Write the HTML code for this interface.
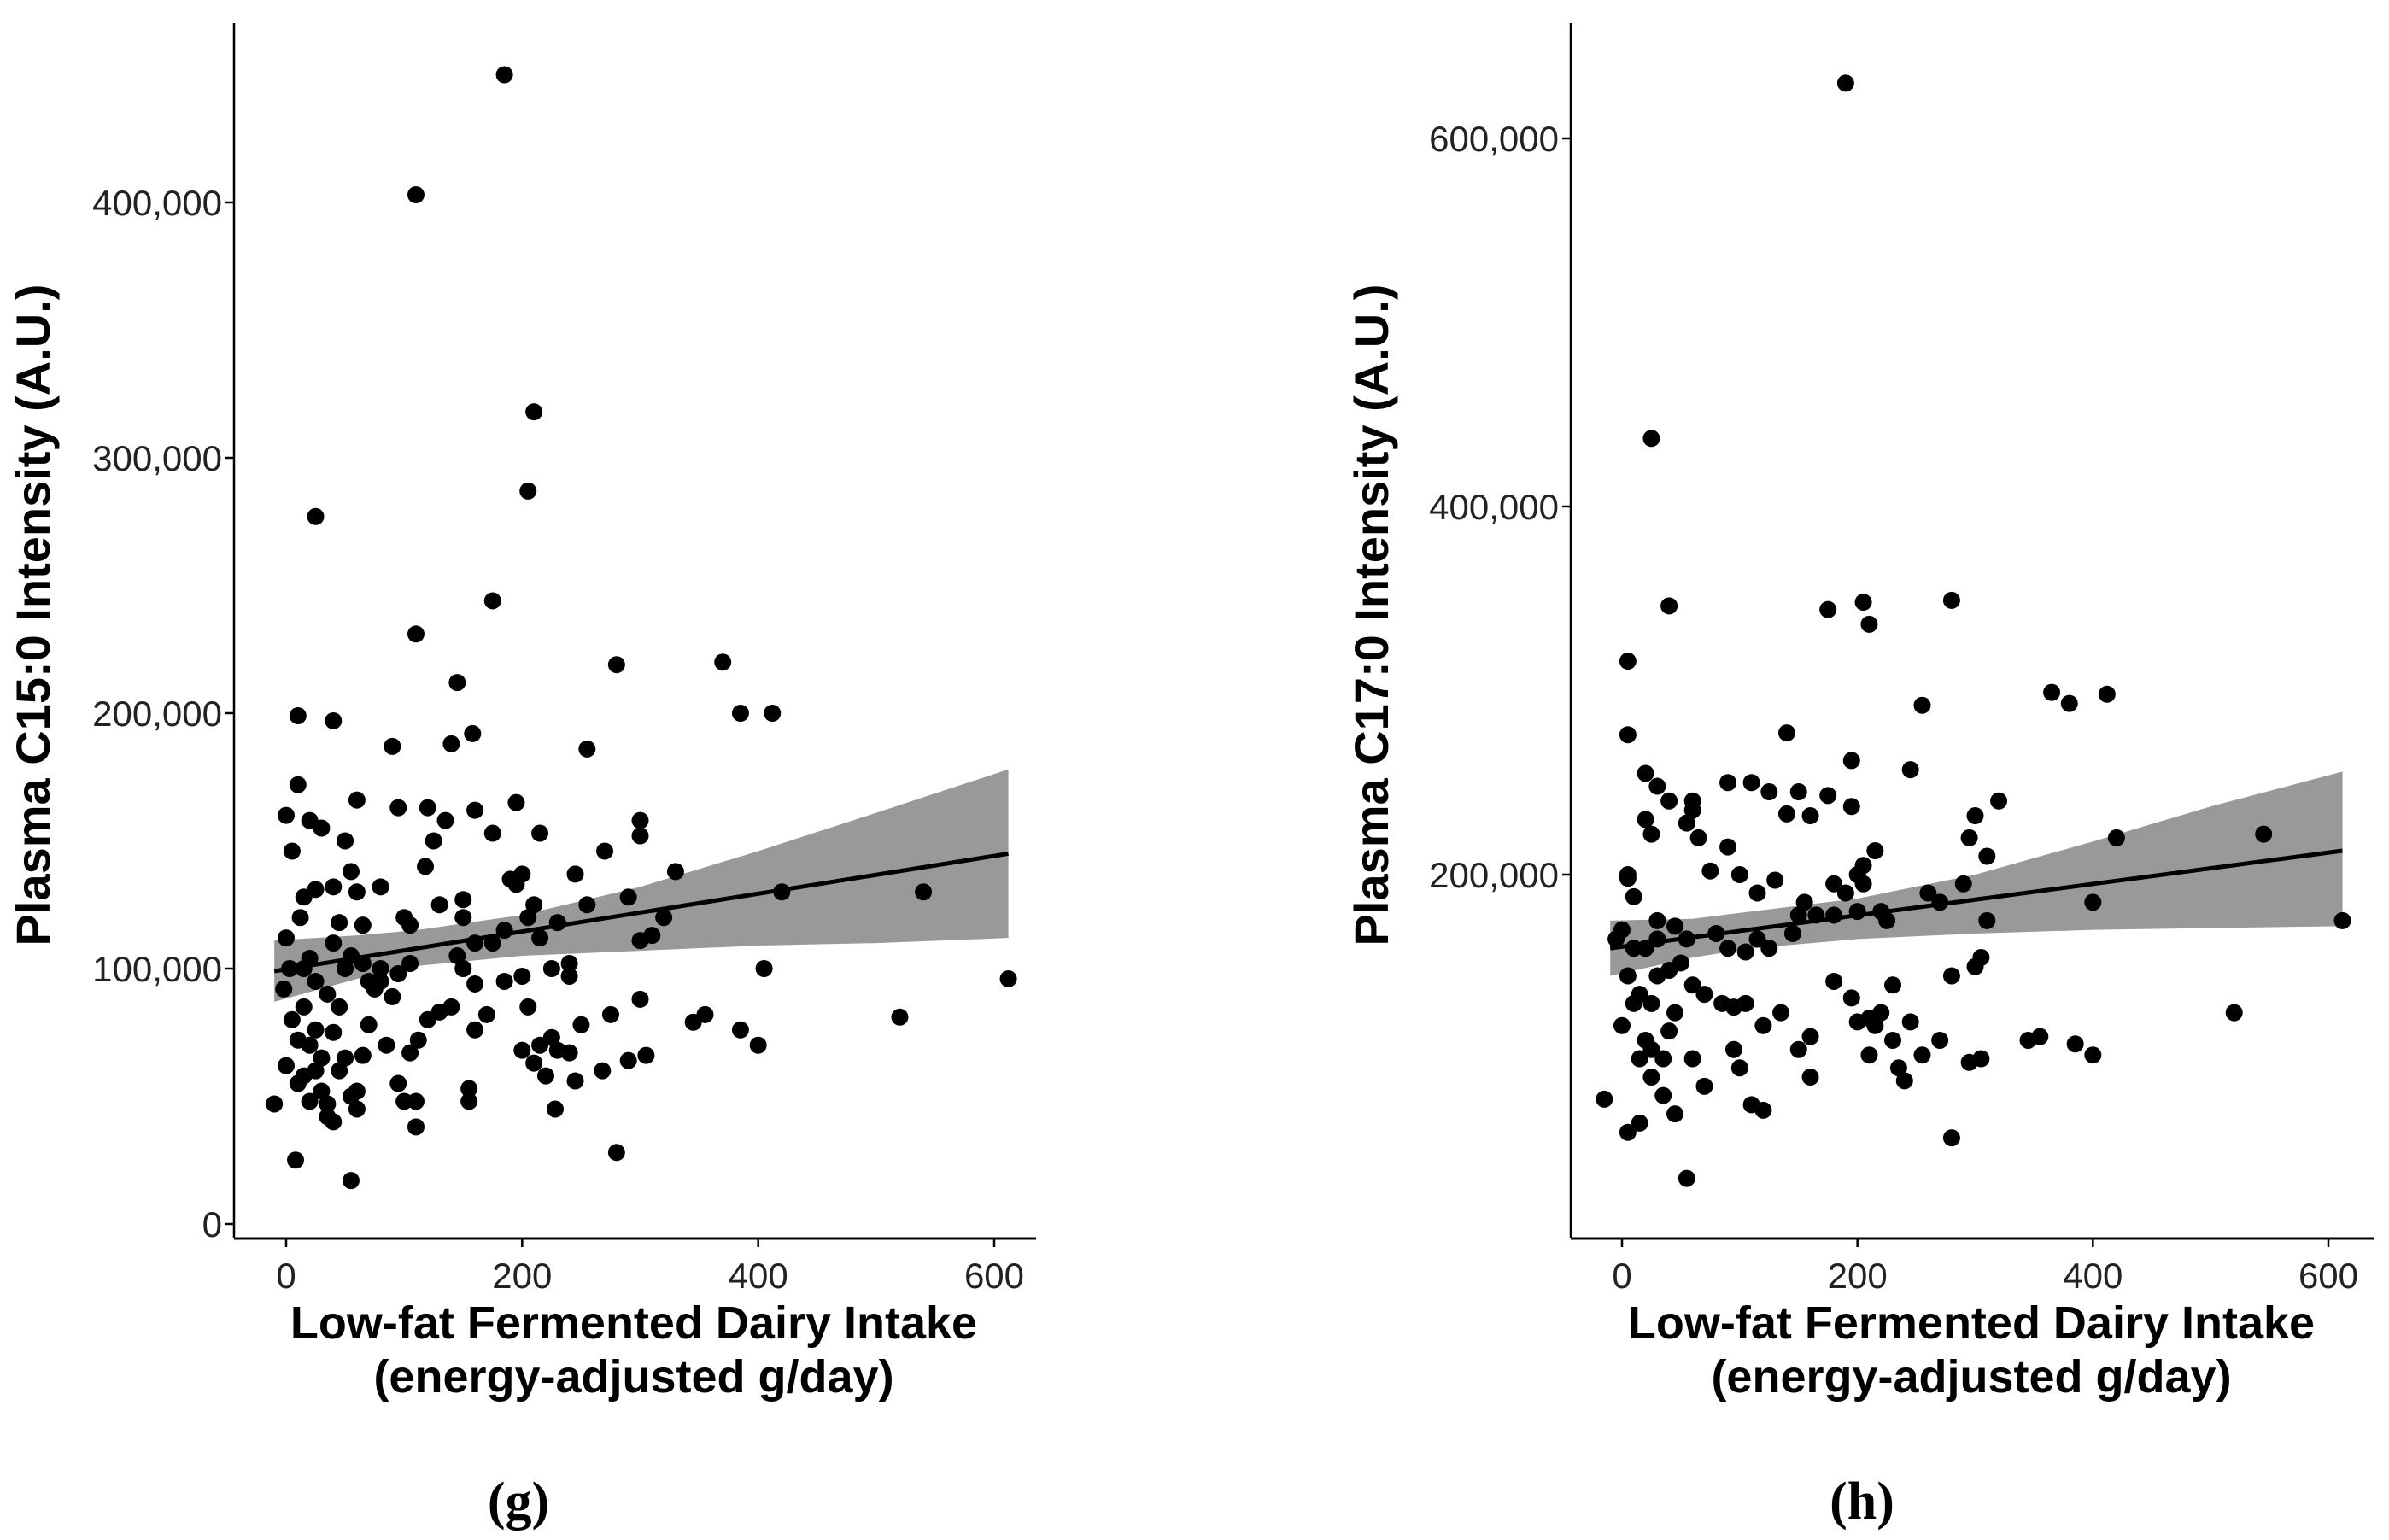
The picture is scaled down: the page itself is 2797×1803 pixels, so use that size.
<!DOCTYPE html>
<html><head><meta charset="utf-8"><style>
html,body{margin:0;padding:0;background:#fff}
svg{display:block}
text{font-family:"Liberation Sans",sans-serif}
text.serif{font-family:"Liberation Serif",serif}
</style></head><body>
<svg id="chart" width="2797" height="1803" viewBox="0 0 2797 1803" xmlns="http://www.w3.org/2000/svg"></svg>
<script>
const xTicks=[0,200,400,600];
const yTicksG=[0,100000,200000,300000,400000];
const yTicksH=[200000,400000,600000];
const gX=[185,110,210,205,25,175,110,370,280,385,412,10,40,90,255,145,140,158,10,60,0,20,30,5,25,50,55,95,120,135,160,175,195,215,200,195,230,205,210,245,270,290,300,300,320,330,420,540,300,310,45,65,80,100,130,150,160,185,215,150,118,125,60,40,15,12,40,70,80,95,105,90,55,20,0,-2,5,10,15,25,30,35,40,20,30,15,25,45,40,45,50,55,60,65,70,80,95,100,105,110,112,120,130,140,155,155,160,170,200,205,210,215,220,225,228,230,240,245,250,268,275,280,290,300,305,225,240,150,160,345,355,385,400,405,520,612,-10,8,55,0,10,20,35,3,15,25,35,50,65,75,85,60,110,145,175,185,190,200,240,255,105];
const gY=[450,403,318,287,277,244,231,220,219,200,200,199,197,187,186,212,188,192,172,166,160,158,155,146,131,150,138,163,163,158,162,153,165,153,137,133,118,120,125,137,146,128,152,158,120,138,130,130,111,113,118,117,132,120,125,127,110,115,112,120,140,150,130,132,128,120,110,95,100,98,102,89,105,104,112,92,80,72,85,60,52,42,40,70,65,58,76,60,75,85,65,50,52,66,78,95,55,48,67,38,72,80,83,85,53,48,76,82,68,85,63,70,58,73,45,68,67,56,78,60,82,28,64,88,66,100,97,100,94,79,82,76,70,100,81,96,47,25,17,62,55,48,47,100,100,95,90,100,102,92,70,45,48,105,110,95,135,97,102,125,117];
const hX=[190,25,40,175,205,280,210,5,365,380,412,255,5,140,195,245,20,30,40,60,90,110,125,140,150,160,175,195,215,205,300,320,295,310,420,545,612,400,20,25,60,55,65,90,75,100,115,130,155,165,180,190,200,205,220,225,260,270,290,310,5,10,0,10,20,30,45,55,80,90,105,115,125,145,150,180,200,-5,5,15,25,30,40,50,60,70,85,95,105,120,135,150,160,180,195,200,210,215,220,230,235,240,245,255,270,280,295,305,300,305,345,355,385,400,520,-15,5,15,25,35,45,55,70,100,110,120,160,210,230,280,25,40,35,15,0,10,20,45,60,5,30,95];
const hY=[630,437,346,344,348,349,336,316,299,293,298,292,276,277,262,257,255,248,240,240,250,250,245,233,245,232,243,237,213,205,232,240,220,210,220,222,175,185,230,222,235,228,220,215,202,200,190,197,185,178,178,190,200,195,180,175,190,185,195,175,198,188,170,160,160,165,172,165,168,160,158,165,160,168,178,195,180,165,145,135,130,145,148,152,140,135,130,128,130,118,125,105,112,142,133,120,102,118,125,110,95,88,120,102,110,145,98,100,150,155,110,112,108,102,125,78,60,65,90,80,70,35,85,95,75,72,90,122,140,57,105,115,100,100,118,130,110,125,100,200,175,105];
const bandX=[-10,60,110,200,300,400,500,612];
const gLow=[87,96,101,105,107,109,110,112];
const gHigh=[111,113,115,121,132,146,161,178];
const hLow=[145,155,160,165,168,170,171,172];
const hHigh=[175,176,180,187,200,218,237,256];
const gFit=[99,145];
const hFit=[160,213];
const fitX=[-10,612];

const NS="http://www.w3.org/2000/svg";
const svg=document.getElementById('chart');
function mk(tag,attrs,parent){const e=document.createElementNS(NS,tag);for(const k in attrs)e.setAttribute(k,attrs[k]);(parent||svg).appendChild(e);return e;}
function fmt(v){return v.toLocaleString('en-US');}

function panel(cfg){
  const g=mk('g',{});
  
  
  const sx=v=>cfg.x0+(v-0)*(cfg.x600-cfg.x0)/600;
  const sy=v=>cfg.yA+(v-cfg.vA)*(cfg.yB-cfg.yA)/(cfg.vB-cfg.vA);
  let pts=[];
  bandX.forEach((x,i)=>pts.push(sx(x)+','+sy(cfg.low[i]*1000)));
  for(let i=bandX.length-1;i>=0;i--)pts.push(sx(bandX[i])+','+sy(cfg.high[i]*1000));
  const band=mk('polygon',{points:pts.join(' '),fill:'#999999'},g);
  
  
  cfg.xs.forEach((x,i)=>{
    const c=mk('circle',{cx:sx(x),cy:sy(cfg.ys[i]*1000),r:10,fill:'#000'},g);
    
    
  });
  const ln=mk('line',{x1:sx(fitX[0]),y1:sy(cfg.fit[0]*1000),x2:sx(fitX[1]),y2:sy(cfg.fit[1]*1000),stroke:'#000','stroke-width':5},g);
  
  
  const ya=mk('line',{x1:cfg.axX,y1:27,x2:cfg.axX,y2:cfg.axY,stroke:'#000','stroke-width':2.5},g);
  
  
  const xa=mk('line',{x1:cfg.axX,y1:cfg.axY,x2:cfg.axXEnd,y2:cfg.axY,stroke:'#000','stroke-width':3},g);
  
  
  xTicks.forEach(t=>{
    mk('line',{x1:sx(t),y1:cfg.axY,x2:sx(t),y2:cfg.axY+10,stroke:'#000','stroke-width':2.5},g);
    const tx=mk('text',{x:sx(t),y:cfg.axY+58,'font-size':42,'text-anchor':'middle',fill:'#222'},g);
    tx.textContent=t;
    
    
  });
  cfg.yt.forEach(t=>{
    mk('line',{x1:cfg.axX-10,y1:sy(t),x2:cfg.axX,y2:sy(t),stroke:'#000','stroke-width':2.5},g);
    const tx=mk('text',{x:cfg.axX-14,y:sy(t)+15,'font-size':42,'text-anchor':'end',fill:'#222'},g);
    tx.textContent=fmt(t);
    
    
  });
  const yt=mk('text',{x:0,y:0,'font-size':56,'font-weight':'bold','text-anchor':'middle',transform:`translate(${cfg.ytX},720) rotate(-90)`},g);
  yt.textContent=cfg.ytitle;
  
  
  const xt1=mk('text',{x:cfg.xtX,y:1567,'font-size':54,'font-weight':'bold','text-anchor':'middle'},g);
  xt1.textContent='Low-fat Fermented Dairy Intake';
  
  
  const xt2=mk('text',{x:cfg.xtX,y:1630,'font-size':54,'font-weight':'bold','text-anchor':'middle'},g);
  xt2.textContent='(energy-adjusted g/day)';
  
  
  const pl=mk('text',{x:cfg.plX,y:1778,'font-size':62,'font-weight':'bold','text-anchor':'middle','class':'serif'},g);
  pl.textContent=cfg.plabel;
  
  
}
panel({name:'panel-g',x0:335,x600:1164,yA:1433,vA:0,yB:1134,vB:100000,xs:gX,ys:gY,low:gLow,high:gHigh,fit:gFit,
  axX:274,axY:1450,axXEnd:1213,yt:yTicksG,ytX:58,ytitle:'Plasma C15:0 Intensity (A.U.)',xtX:742,plX:607,plabel:'(g)'});
panel({name:'panel-h',x0:1899,x600:2726,yA:1024,vA:200000,yB:162,vB:600000,xs:hX,ys:hY,low:hLow,high:hHigh,fit:hFit,
  axX:1839,axY:1450,axXEnd:2779,yt:yTicksH,ytX:1625,ytitle:'Plasma C17:0 Intensity (A.U.)',xtX:2308,plX:2180,plabel:'(h)'});
</script>
</body></html>
